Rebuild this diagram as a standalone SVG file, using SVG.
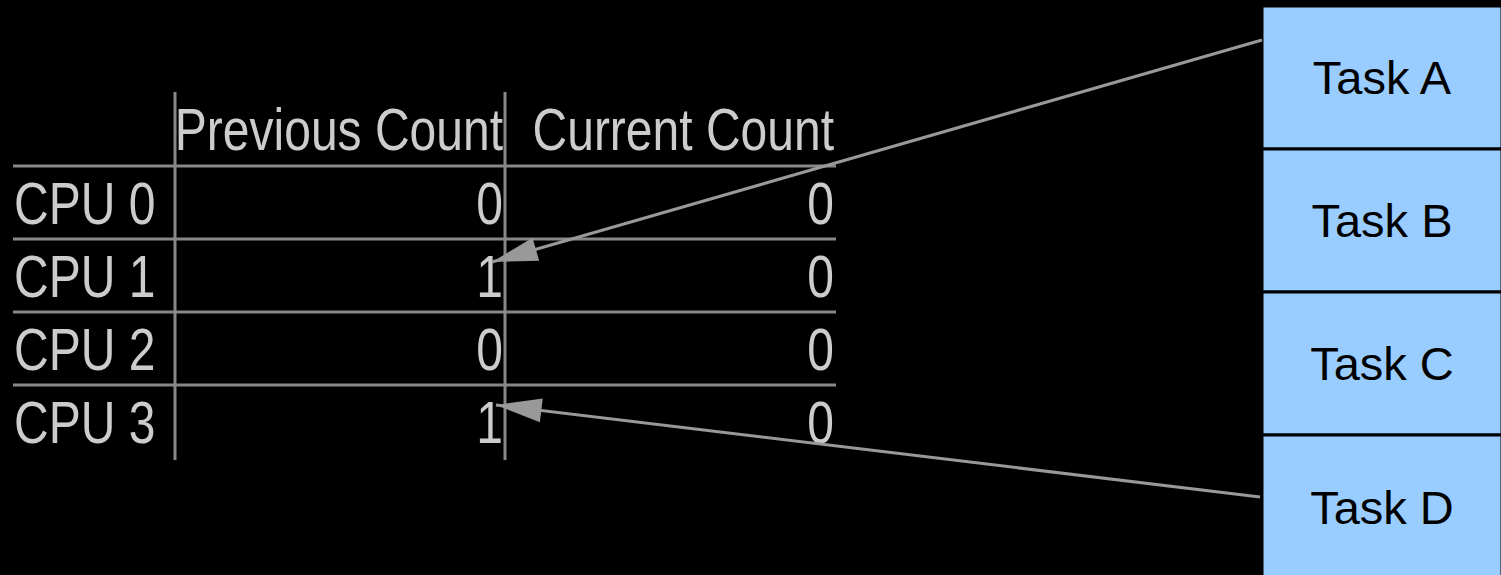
<svg xmlns="http://www.w3.org/2000/svg" width="1501" height="575" viewBox="0 0 1501 575">
<style>
.bg{fill:#000}
.grid{stroke:#888;stroke-width:3}
.t{font-family:"Liberation Sans",Arial,sans-serif;font-size:60px;fill:#cccccc}
.r{text-anchor:end}
.task rect{fill:#99ccff;stroke:#000;stroke-width:3}
.task text{font-family:"Liberation Sans",Arial,sans-serif;font-size:47px;fill:#000;text-anchor:middle}
.conn{stroke:#999;stroke-width:3;fill:none;marker-end:url(#ah)}
</style>
<defs>
<marker id="ah" markerUnits="userSpaceOnUse" markerWidth="50" markerHeight="30" viewBox="-44 -13 46 26" refX="0" refY="0" orient="auto">
<path d="M0,0 L-42,-11 L-42,11 Z" fill="#999"/>
</marker>
</defs>
<rect class="bg" x="0" y="0" width="1501" height="575"/>
<g id="table">
<line class="grid" x1="13" y1="166" x2="836" y2="166"/>
<line class="grid" x1="13" y1="239" x2="836" y2="239"/>
<line class="grid" x1="13" y1="312" x2="836" y2="312"/>
<line class="grid" x1="13" y1="385" x2="836" y2="385"/>
<line class="grid" x1="175" y1="92" x2="175" y2="460"/>
<line class="grid" x1="505" y1="92" x2="505" y2="460"/>
<g transform="scale(0.8 1)">
<text class="t r" x="628.75" y="150">Previous Count</text>
<text class="t r" x="1042.5" y="150">Current Count</text>
<text class="t" x="17.5" y="224">CPU 0</text>
<text class="t" x="17.5" y="297">CPU 1</text>
<text class="t" x="17.5" y="370">CPU 2</text>
<text class="t" x="17.5" y="443">CPU 3</text>
<text class="t r" x="628.75" y="224">0</text>
<text class="t r" x="628.75" y="297">1</text>
<text class="t r" x="628.75" y="370">0</text>
<text class="t r" x="628.75" y="443">1</text>
<text class="t r" x="1042.5" y="224">0</text>
<text class="t r" x="1042.5" y="297">0</text>
<text class="t r" x="1042.5" y="370">0</text>
<text class="t r" x="1042.5" y="443">0</text>
</g>
</g>
<g id="taskA" class="task"><rect x="1262" y="6" width="240" height="143"/><text x="1382" y="94">Task A</text></g>
<g id="taskB" class="task"><rect x="1262" y="149" width="240" height="143"/><text x="1382" y="237">Task B</text></g>
<g id="taskC" class="task"><rect x="1262" y="292" width="240" height="143"/><text x="1382" y="380">Task C</text></g>
<g id="taskD" class="task"><rect x="1262" y="435" width="240" height="143"/><text x="1382" y="524">Task D</text></g>
<g id="connectors">
<line class="conn" x1="1262" y1="40" x2="492" y2="262"/>
<line class="conn" x1="1260" y1="497" x2="496" y2="405"/>
</g>
</svg>
